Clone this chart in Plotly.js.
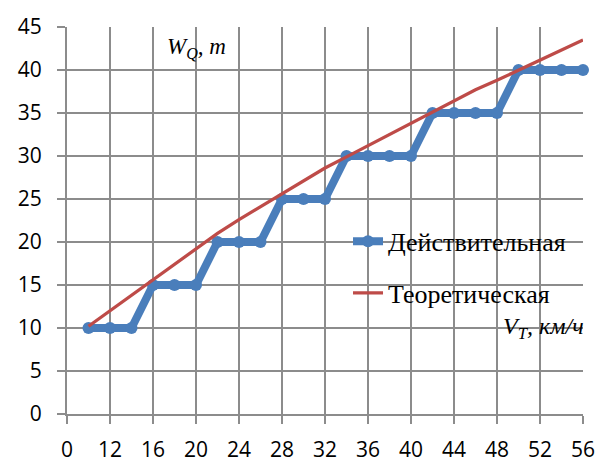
<!DOCTYPE html>
<html>
<head>
<meta charset="utf-8">
<script src="https://cdn.plot.ly/plotly-3.0.1.min.js"></script>
<style>html,body{margin:0;padding:0;background:#fff;}#chart{width:603px;height:463px;}</style>
</head>
<body>
<div id="chart"></div>
<script>
// Categories (V_T, км/ч) — Excel category axis
const categories = ["0","10","12","14","16","18","20","22","24","26","28","30","32","34","36","38","40","42","44","46","48","50","52","54","56"];
// Labelled categories (every other one)
const labelledCats = ["0","12","16","20","24","28","32","36","40","44","48","52","56"];
// Unlabelled categories (gridlines / ticks only)
const unlabelledCats = ["10","14","18","22","26","30","34","38","42","46","50","54"];
// Действительная (actual), W_Q, m
const actual = [null,10,10,10,15,15,15,20,20,20,25,25,25,30,30,30,30,35,35,35,35,40,40,40,40];
// Теоретическая (theoretical), W_Q, m
const theoretical = [null,10.2,12.0,13.8,15.6,17.3,19.2,21.0,22.6,24.1,25.6,27.1,28.6,29.9,31.2,32.5,33.9,35.2,36.5,37.7,38.8,40.0,41.2,42.4,43.5];

const seriesNames = ["Действительная","Теоретическая"];

const traces = [
  {
    x: categories, y: actual, name: seriesNames[0], type: "scatter", mode: "lines+markers",
    line: {color: "#4A7EBB", width: 8},
    marker: {color: "#4A7EBB", size: 12, symbol: "circle"},
    legendgroup: "a", connectgaps: false, cliponaxis: false
  },
  {
    x: categories, y: theoretical, name: seriesNames[1], type: "scatter", mode: "lines",
    line: {color: "#BE4B48", width: 3.25},
    legendgroup: "b", connectgaps: false
  }
];

const gridCol = "#8C8C8C";
const tickFont = {family: "Open Sans, sans-serif", size: 21, color: "#000"};
const layout = {
  width: 603, height: 463,
  margin: {l: 67, r: 20, t: 27, b: 49},
  paper_bgcolor: "#ffffff", plot_bgcolor: "#ffffff",
  font: {family: "Open Sans, Liberation Sans, sans-serif", color: "#000"},
  showlegend: true,
  legend: {
    x: 0.5446, y: 0.507, xanchor: "left", yanchor: "top",
    bgcolor: "rgba(0,0,0,0)", borderwidth: 0,
    font: {family: "Liberation Serif, Times New Roman, serif", size: 26, color: "#000"},
    tracegroupgap: 15, traceorder: "grouped"
  },
  xaxis: {
    type: "category", categoryorder: "array", categoryarray: categories,
    range: [0, 24],
    tickmode: "array", tickvals: labelledCats,
    showgrid: true, gridcolor: gridCol, gridwidth: 2,
    showline: true, linecolor: gridCol, linewidth: 2,
    ticks: "outside", ticklen: 8, tickwidth: 2, tickcolor: gridCol,
    tickfont: tickFont,
    ticklabelstandoff: 8,
    zeroline: false, fixedrange: true
  },
  xaxis2: {
    type: "category", categoryorder: "array", categoryarray: categories,
    overlaying: "x", anchor: "y", side: "bottom",
    range: [0, 24],
    tickmode: "array", tickvals: unlabelledCats, showticklabels: false,
    showgrid: true, gridcolor: gridCol, gridwidth: 2,
    showline: false,
    ticks: "outside", ticklen: 8, tickwidth: 2, tickcolor: gridCol,
    zeroline: false, fixedrange: true
  },
  yaxis: {
    range: [0, 45], dtick: 5, tick0: 0,
    showgrid: true, gridcolor: gridCol, gridwidth: 2,
    showline: true, linecolor: gridCol, linewidth: 2,
    ticks: "outside", ticklen: 8, tickwidth: 2, tickcolor: gridCol,
    tickfont: tickFont,
    ticklabelstandoff: 11,
    zeroline: false, fixedrange: true
  },
  annotations: [
    {
      xref: "paper", yref: "paper", x: (165 - 67) / 516, y: (414 - 48) / 387,
      xanchor: "left", yanchor: "middle", showarrow: false,
      text: "W<sub>Q</sub>, m",
      font: {family: "Liberation Serif, Times New Roman, serif", size: 23, color: "#000", style: "italic"}
    },
    {
      xref: "paper", yref: "paper", x: (586 - 67) / 516, y: (414 - 328) / 387,
      xanchor: "right", yanchor: "middle", showarrow: false,
      text: "V<sub>T</sub>, км/ч",
      font: {family: "Liberation Serif, Times New Roman, serif", size: 24, color: "#000", style: "italic"}
    }
  ]
};

Plotly.newPlot("chart", traces, layout, {displayModeBar: false, staticPlot: true});
</script>
</body>
</html>
